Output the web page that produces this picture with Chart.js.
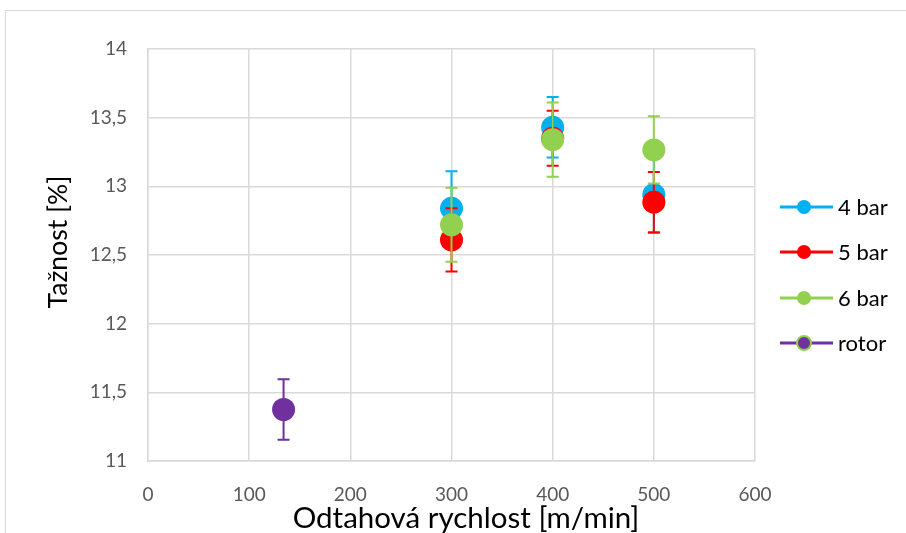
<!DOCTYPE html>
<html>
<head>
<meta charset="utf-8">
<script src="https://cdn.jsdelivr.net/npm/chart.js@4"></script>
<style>
html,body{margin:0;padding:0;background:#fff;}
#wrap{position:relative;width:906px;height:533px;}
</style>
</head>
<body>
<div id="wrap"><canvas id="c" width="906" height="533"></canvas></div>
<script>
// ---- data ----
const seriesLabels = ['4 bar', '5 bar', '6 bar', 'rotor'];
const xTitle = 'Odtahová rychlost [m/min]';
const yTitle = 'Tažnost [%]';
const speeds = [300, 400, 500];
const rotorSpeed = [134];
const bar4 = [12.84, 13.43, 12.94];
const bar4Err = [0.27, 0.22, 0.28];
const bar5 = [12.61, 13.35, 12.885];
const bar5Err = [0.23, 0.20, 0.22];
const bar6 = [12.72, 13.34, 13.265];
const bar6Err = [0.27, 0.27, 0.245];
const rotor = [11.375];
const rotorErr = [0.22];
const xTicks = [0, 100, 200, 300, 400, 500, 600];
const yTicks = [11, 11.5, 12, 12.5, 13, 13.5, 14];

const colors = ['#00B0F0', '#FF0000', '#92D050', '#7030A0'];
const FONT = 'Lato, "Open Sans", sans-serif';

function pts(xs, ys) { return xs.map((x, i) => ({x: x, y: ys[i]})); }

const datasets = [
  {label: seriesLabels[0], data: pts(speeds, bar4), err: bar4Err, order: 3},
  {label: seriesLabels[1], data: pts(speeds, bar5), err: bar5Err, order: 2},
  {label: seriesLabels[2], data: pts(speeds, bar6), err: bar6Err, order: 1},
  {label: seriesLabels[3], data: pts(rotorSpeed, rotor), err: rotorErr, order: 0}
].map((d, i) => Object.assign(d, {
  backgroundColor: colors[i],
  borderColor: colors[i],
  pointRadius: 11.5,
  pointHoverRadius: 11.5,
  pointBorderWidth: 0,
  showLine: false
}));

const errorBars = {
  id: 'errorBars',
  beforeDatasetDraw(chart, args) {
    const ds = chart.data.datasets[args.index];
    const meta = args.meta;
    const ys = chart.scales.y;
    const ctx = chart.ctx;
    ctx.save();
    ctx.strokeStyle = ds.borderColor;
    ctx.lineWidth = 2;
    ds.data.forEach((p, i) => {
      const el = meta.data[i];
      const x = el.x;
      const top = ys.getPixelForValue(p.y + ds.err[i]);
      const bot = ys.getPixelForValue(p.y - ds.err[i]);
      ctx.beginPath();
      ctx.moveTo(x, top); ctx.lineTo(x, bot);
      ctx.moveTo(x - 6, top); ctx.lineTo(x + 6, top);
      ctx.moveTo(x - 6, bot); ctx.lineTo(x + 6, bot);
      ctx.stroke();
    });
    ctx.restore();
  }
};

const frameAndLegend = {
  id: 'frameAndLegend',
  beforeDraw(chart) {
    const ctx = chart.ctx;
    ctx.save();
    ctx.strokeStyle = '#d9d9d9';
    ctx.lineWidth = 1;
    ctx.strokeRect(5.5, 10.5, 1000, 1000);
    ctx.restore();
  },
  afterDraw(chart) {
    const ctx = chart.ctx;
    const ys = [207, 252, 298, 343];
    ctx.save();
    chart.data.datasets.forEach((ds, i) => {
      const y = ys[i];
      ctx.strokeStyle = colors[i];
      ctx.lineWidth = 3;
      ctx.beginPath();
      ctx.moveTo(780, y); ctx.lineTo(833, y);
      ctx.stroke();
      ctx.beginPath();
      ctx.arc(804, y, 7, 0, Math.PI * 2);
      ctx.fillStyle = colors[i];
      ctx.fill();
      if (i === 3) {
        ctx.lineWidth = 2;
        ctx.strokeStyle = colors[2];
        ctx.stroke();
      }
      ctx.fillStyle = '#000';
      ctx.font = '22px ' + FONT;
      ctx.textBaseline = 'middle';
      ctx.textAlign = 'left';
      ctx.fillText(ds.label, 838, y + 1);
    });
    // axis titles
    ctx.fillStyle = '#000';
    ctx.textAlign = 'center';
    ctx.textBaseline = 'middle';
    ctx.font = '29.5px ' + FONT;
    ctx.fillText(xTitle, 466, 518);
    ctx.translate(58, 242);
    ctx.rotate(-Math.PI / 2);
    ctx.font = '26.5px ' + FONT;
    ctx.fillText(yTitle, 0, 0);
    ctx.restore();
  }
};

new Chart(document.getElementById('c'), {
  type: 'scatter',
  data: {datasets: datasets},
  options: {
    responsive: false,
    animation: false,
    devicePixelRatio: 1,
    layout: {padding: {left: 0, right: 151, top: 49, bottom: 0}},
    plugins: {legend: {display: false}, tooltip: {enabled: false}},
    scales: {
      x: {
        type: 'linear', min: 0, max: 600,
        afterBuildTicks(s) { s.ticks = xTicks.map(v => ({value: v})); },
        afterFit(s) { s.height = 72; },
        grid: {color: '#d9d9d9', lineWidth: 1.5, drawTicks: false},
        border: {color: '#d9d9d9', width: 1.5},
        ticks: {padding: 22, color: '#595959', font: {family: FONT, size: 19}}
      },
      y: {
        type: 'linear', min: 11, max: 14,
        afterBuildTicks(s) { s.ticks = yTicks.map(v => ({value: v})); },
        afterFit(s) { s.width = 148; },
        grid: {color: '#d9d9d9', lineWidth: 1.5, drawTicks: false},
        border: {color: '#d9d9d9', width: 1.5},
        ticks: {padding: 21, color: '#595959', font: {family: FONT, size: 19},
                callback: v => String(v).replace('.', ',')}
      }
    }
  },
  plugins: [errorBars, frameAndLegend]
});
</script>
</body>
</html>
